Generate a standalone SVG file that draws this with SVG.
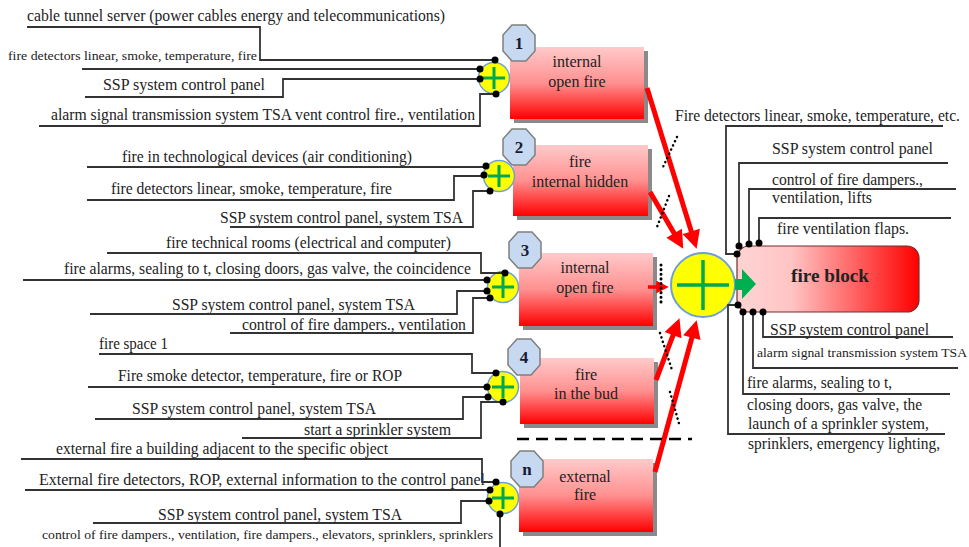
<svg xmlns="http://www.w3.org/2000/svg" xmlns:xlink="http://www.w3.org/1999/xlink" width="969" height="547" viewBox="0 0 969 547">
<style>
.t{font-family:"Liberation Serif","Times New Roman",serif;font-size:16px;fill:#222}
.s{font-size:12px}
.m{font-size:13px}
.c{text-anchor:middle}
.ln{fill:none;stroke:#333;stroke-width:1.8}
.dot{fill:#000}
.sh{fill:#8a8a8a}
.box{fill:url(#gv)}
.badge{fill:#c6d9f1;stroke:#7f7f7f;stroke-width:1.5}
.bn{font-family:"Liberation Serif","Times New Roman",serif;font-weight:bold;font-size:17px;fill:#1a1a33;text-anchor:middle}
.yc{fill:#ffff00;stroke:#6f9fd8;stroke-width:1.5}
.gp{fill:none;stroke:#00a850;stroke-width:3}
.arr{fill:none;stroke:#ff0000;stroke-width:5;marker-end:url(#ah)}
.dl{fill:none;stroke:#000;stroke-width:2.5;stroke-dasharray:0.1 4.5;stroke-linecap:round}
</style>
<defs>
<linearGradient id="gv" x1="0" y1="0" x2="0" y2="1">
<stop offset="0" stop-color="#ffcaca"/><stop offset="0.5" stop-color="#ff9090"/><stop offset="1" stop-color="#ff0000"/>
</linearGradient>
<linearGradient id="gh" x1="0" y1="0" x2="1" y2="0">
<stop offset="0" stop-color="#ffd4d4"/><stop offset="0.3" stop-color="#ffc4c4"/><stop offset="1" stop-color="#ff0000"/>
</linearGradient>
<polygon id="oct" class="badge" points="-7,-18 7,-18 16,-8 16,8 7,18 -7,18 -16,8 -16,-8"/>
<g id="sc"><circle r="15.5" class="yc"/><path d="M-11,0H11M0,-11V11" class="gp"/></g>
<marker id="ah" viewBox="0 0 10 10" refX="3" refY="5" markerWidth="4" markerHeight="3.6" orient="auto" markerUnits="strokeWidth">
<path d="M0,0L10,5L0,10z" fill="#ff0000"/>
</marker>
</defs>
<rect width="969" height="547" fill="#fff"/>

<g id="node1">
<rect class="sh" x="514" y="51" width="134" height="72"/>
<rect class="box" x="510" y="47" width="134" height="72"/>
<use xlink:href="#oct" x="519" y="43"/>
<text class="bn" x="519" y="49">1</text>
<text class="t c" x="577" y="67">internal</text>
<text class="t c" x="577" y="87">open fire</text>
<use xlink:href="#sc" x="494" y="78"/>
<text class="t" x="27" y="21" textLength="418" lengthAdjust="spacingAndGlyphs">cable tunnel server (power cables energy and telecommunications)</text>
<text class="t s" x="8" y="60" textLength="249" lengthAdjust="spacingAndGlyphs">fire detectors linear, smoke, temperature, fire</text>
<text class="t" x="103" y="90" textLength="162" lengthAdjust="spacingAndGlyphs">SSP system control panel</text>
<text class="t" x="51" y="120" textLength="424" lengthAdjust="spacingAndGlyphs">alarm signal transmission system TSA vent control fire., ventilation</text>
</g>

<g id="node2">
<rect class="sh" x="517" y="149" width="135" height="71"/>
<rect class="box" x="513" y="145" width="135" height="71"/>
<use xlink:href="#oct" x="519" y="147"/>
<text class="bn" x="519" y="153">2</text>
<text class="t c" x="580" y="167">fire</text>
<text class="t c" x="580" y="187">internal hidden</text>
<use xlink:href="#sc" x="499" y="176"/>
<text class="t" x="122" y="162" textLength="290" lengthAdjust="spacingAndGlyphs">fire in technological devices (air conditioning)</text>
<text class="t" x="111" y="194" textLength="281" lengthAdjust="spacingAndGlyphs">fire detectors linear, smoke, temperature, fire</text>
<text class="t" x="220" y="223" textLength="243" lengthAdjust="spacingAndGlyphs">SSP system control panel, system TSA</text>
</g>

<g id="node3">
<rect class="sh" x="523" y="257" width="134" height="73"/>
<rect class="box" x="519" y="253" width="134" height="73"/>
<use xlink:href="#oct" x="525" y="250"/>
<text class="bn" x="525" y="256">3</text>
<text class="t c" x="585" y="273">internal</text>
<text class="t c" x="585" y="293">open fire</text>
<use xlink:href="#sc" x="503" y="287"/>
<text class="t" x="166" y="248" textLength="285" lengthAdjust="spacingAndGlyphs">fire technical rooms (electrical and computer)</text>
<text class="t" x="64" y="274" textLength="407" lengthAdjust="spacingAndGlyphs">fire alarms, sealing to t, closing doors, gas valve, the coincidence</text>
<text class="t" x="172" y="310" textLength="243" lengthAdjust="spacingAndGlyphs">SSP system control panel, system TSA</text>
<text class="t" x="242" y="330" textLength="224" lengthAdjust="spacingAndGlyphs">control of fire dampers., ventilation</text>
</g>

<g id="node4">
<rect class="sh" x="524" y="362" width="134" height="66"/>
<rect class="box" x="520" y="358" width="134" height="66"/>
<use xlink:href="#oct" x="524" y="357"/>
<text class="bn" x="524" y="363">4</text>
<text class="t c" x="586" y="380">fire</text>
<text class="t c" x="586" y="399">in the bud</text>
<use xlink:href="#sc" x="503" y="387"/>
<text class="t" x="99" y="349" textLength="69" lengthAdjust="spacingAndGlyphs">fire space 1</text>
<text class="t" x="118" y="381" textLength="284" lengthAdjust="spacingAndGlyphs">Fire smoke detector, temperature, fire or ROP</text>
<text class="t" x="132" y="414" textLength="244" lengthAdjust="spacingAndGlyphs">SSP system control panel, system TSA</text>
<text class="t" x="304" y="435" textLength="147" lengthAdjust="spacingAndGlyphs">start a sprinkler system</text>
</g>

<g id="noden">
<rect class="sh" x="523" y="463" width="134" height="73"/>
<rect class="box" x="519" y="459" width="134" height="73"/>
<use xlink:href="#oct" x="527" y="469"/>
<text class="bn" x="527" y="475">n</text>
<text class="t c" x="585" y="482">external</text>
<text class="t c" x="585" y="500">fire</text>
<use xlink:href="#sc" x="503" y="498"/>
<text class="t" x="56" y="454" textLength="332" lengthAdjust="spacingAndGlyphs">external fire a building adjacent to the specific object</text>
<text class="t" x="39" y="485" textLength="446" lengthAdjust="spacingAndGlyphs">External fire detectors, ROP, external information to the control panel</text>
<text class="t" x="158" y="520" textLength="244" lengthAdjust="spacingAndGlyphs">SSP system control panel, system TSA</text>
<text class="t s" x="42" y="539" textLength="451" lengthAdjust="spacingAndGlyphs">control of fire dampers., ventilation, fire dampers., elevators, sprinklers, sprinklers</text>
</g>

<g id="sum">
<circle cx="703" cy="285" r="32" fill="#ffff00" stroke="#6f9fd8" stroke-width="2"/>
<path d="M677,285H729M703,260V310" fill="none" stroke="#00a850" stroke-width="3.5"/>
</g>

<g id="fireblock">
<rect x="737" y="246" width="182" height="66" rx="12" fill="url(#gh)" stroke="#7a2a2a" stroke-width="1.2"/>
<text class="t" x="791" y="282" style="font-size:19px;font-weight:bold" textLength="78" lengthAdjust="spacingAndGlyphs">fire block</text>
<text class="t" x="675" y="121" textLength="285" lengthAdjust="spacingAndGlyphs">Fire detectors linear, smoke, temperature, etc.</text>
<text class="t" x="772" y="154" textLength="161" lengthAdjust="spacingAndGlyphs">SSP system control panel</text>
<text class="t" x="772" y="185" textLength="151" lengthAdjust="spacingAndGlyphs">control of fire dampers.,</text>
<text class="t" x="772" y="203" textLength="100" lengthAdjust="spacingAndGlyphs">ventilation, lifts</text>
<text class="t" x="777" y="234" textLength="132" lengthAdjust="spacingAndGlyphs">fire ventilation flaps.</text>
<text class="t" x="770" y="335" textLength="159" lengthAdjust="spacingAndGlyphs">SSP system control panel</text>
<text class="t m" x="757" y="357" textLength="210" lengthAdjust="spacingAndGlyphs">alarm signal transmission system TSA</text>
<text class="t" x="747" y="388" textLength="145" lengthAdjust="spacingAndGlyphs">fire alarms, sealing to t,</text>
<text class="t" x="747" y="410" textLength="175" lengthAdjust="spacingAndGlyphs">closing doors, gas valve, the</text>
<text class="t" x="748" y="429" textLength="181" lengthAdjust="spacingAndGlyphs">launch of a sprinkler system,</text>
<text class="t" x="748" y="449" textLength="192" lengthAdjust="spacingAndGlyphs">sprinklers, emergency lighting,</text>
</g>

<g id="connectors">
<polyline class="ln" points="27,27 260,27 260,60 495,60"/>
<polyline class="ln" points="82,69 480,69"/>
<polyline class="ln" points="85,97 283,97 283,79 480,79"/>
<polyline class="ln" points="39,126 480,126 480,94 496,94"/>

<polyline class="ln" points="87,167 486,167"/>
<polyline class="ln" points="87,200 454,200 454,176 484,176"/>
<polyline class="ln" points="230,227 473,227 473,191 490,191"/>

<polyline class="ln" points="107,253 481,253 481,273 505,273"/>
<polyline class="ln" points="23,280 487,280"/>
<polyline class="ln" points="90,314 457,314 457,291 487,291"/>
<polyline class="ln" points="230,333 473,333 473,298 490,298"/>

<polyline class="ln" points="99,354 472,354 472,373 496,373"/>
<polyline class="ln" points="88,387 487,387"/>
<polyline class="ln" points="95,419 463,419 463,397 488,397"/>
<polyline class="ln" points="242,438 481,438 481,402 503,402"/>

<polyline class="ln" points="21,459 482,459 482,482 496,482"/>
<polyline class="ln" points="25,490 490,490"/>
<polyline class="ln" points="93,523 461,523 461,501 489,501"/>
<polyline class="ln" points="500,514 500,547"/>

<polyline class="ln" points="943,126 726,126 726,254 737,254"/>
<polyline class="ln" points="948,163 739,163 739,246"/>
<polyline class="ln" points="956,189 749,189 749,244"/>
<polyline class="ln" points="951,218 759,218 759,243"/>
<polyline class="ln" points="763,312 763,337 953,337"/>
<polyline class="ln" points="753,312 753,368 958,368"/>
<polyline class="ln" points="743,312 743,394 950,394"/>
<polyline class="ln" points="738,305 728,305 728,434 945,434"/>

<g class="dot">
<circle cx="495" cy="60" r="3.5"/><circle cx="480" cy="69" r="3.5"/><circle cx="480" cy="79" r="3.5"/><circle cx="496" cy="94" r="3.5"/>
<circle cx="486" cy="166" r="3.5"/><circle cx="484" cy="175" r="3.5"/><circle cx="490" cy="191" r="3.5"/>
<circle cx="505" cy="273" r="3.5"/><circle cx="487" cy="280" r="3.5"/><circle cx="487" cy="291" r="3.5"/><circle cx="490" cy="298" r="3.5"/>
<circle cx="496" cy="373" r="3.5"/><circle cx="487" cy="387" r="3.5"/><circle cx="488" cy="397" r="3.5"/><circle cx="503" cy="402" r="3.5"/>
<circle cx="496" cy="482" r="3.5"/><circle cx="490" cy="490" r="3.5"/><circle cx="489" cy="501" r="3.5"/><circle cx="500" cy="514" r="3.5"/>
<circle cx="737" cy="254" r="3.5"/><circle cx="739" cy="246" r="3.5"/><circle cx="749" cy="244" r="3.5"/><circle cx="759" cy="243" r="3.5"/>
<circle cx="738" cy="305" r="3.5"/><circle cx="743" cy="312" r="3.5"/><circle cx="753" cy="312" r="3.5"/><circle cx="763" cy="312" r="3.5"/>
</g>

<line class="arr" x1="647" y1="88" x2="692.9" y2="236.6"/>
<line class="arr" x1="650" y1="192" x2="676.9" y2="237.9"/>
<line class="arr" x1="648" y1="287" x2="660" y2="287" style="stroke-width:3.5"/>
<line class="arr" x1="656" y1="380" x2="675" y2="330.1"/>
<line class="arr" x1="655" y1="472" x2="693.3" y2="332.5"/>

<line class="dl" x1="677" y1="137" x2="663" y2="167"/>
<line class="dl" x1="669" y1="196" x2="657" y2="227"/>
<line class="dl" x1="661" y1="265" x2="661" y2="305" style="stroke-width:3"/>
<line class="dl" x1="660" y1="333" x2="672" y2="370"/>
<line class="dl" x1="670" y1="392" x2="680" y2="427"/>
<line x1="517" y1="439" x2="692" y2="439" stroke="#000" stroke-width="2.5" stroke-dasharray="12 7"/>

<polygon points="735,279 742,279 742,269 756,284 742,299 742,290 735,290" fill="#00b050"/>
</g>
</svg>
